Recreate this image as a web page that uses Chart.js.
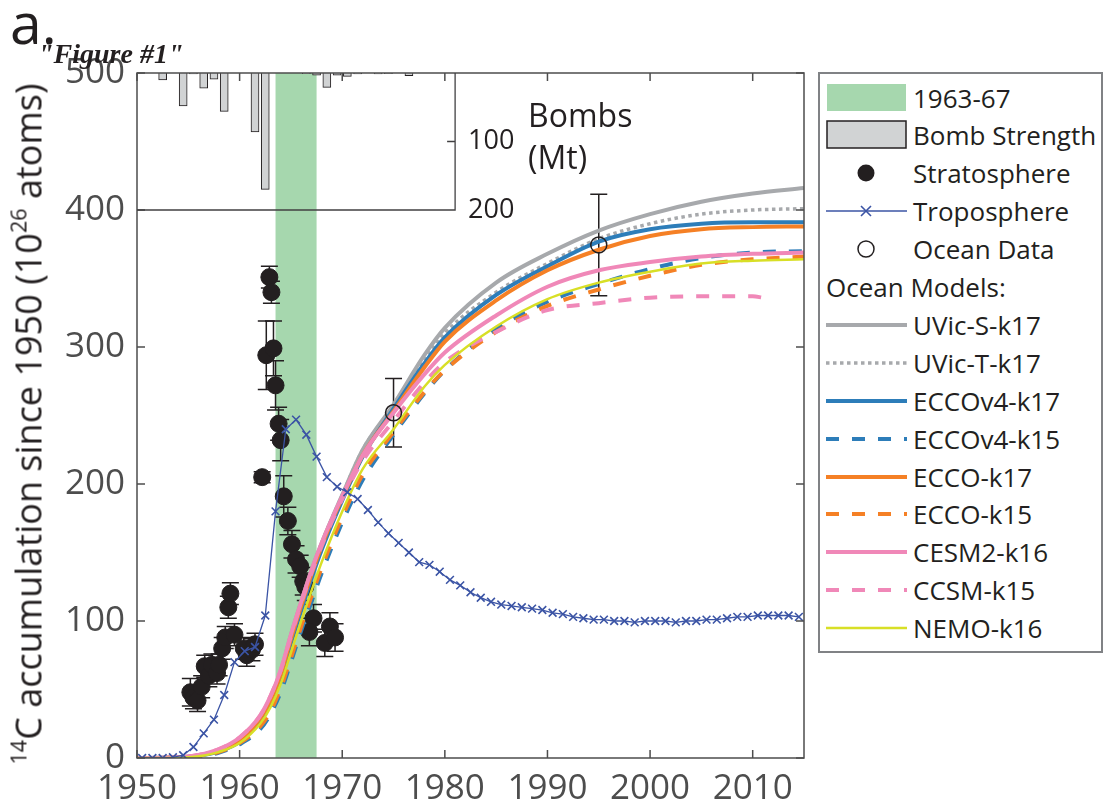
<!DOCTYPE html>
<html>
<head>
<meta charset="utf-8">
<script src="https://cdn.jsdelivr.net/npm/chart.js@4.4.1/dist/chart.umd.min.js"></script>
<style>
  body { margin: 0; background: #fff; }
  #wrap { position: relative; width: 1105px; height: 811px; font-family: 'Open Sans', sans-serif; color: #231f20; overflow: hidden; }
  canvas { position: absolute; left: 0; top: 0; }
  .lbl { position: absolute; white-space: nowrap; }
  .lbl sup { font-size: 0.6em; vertical-align: 0.7em; line-height: 0; }
  #legend { position: absolute; left: 818px; top: 72px; width: 285px; height: 581px; border: 2px solid #808285; box-sizing: border-box; background: #fff; }
  .row { position: absolute; left: 6px; height: 38px; display: flex; align-items: center; font-size: 26px; white-space: nowrap; }
  .row svg { flex: none; margin-right: 6px; }
</style>
</head>
<body>
<div id="wrap">
  <canvas id="myChart" width="1105" height="811"></canvas>
  <div class="lbl" style="left:10px;top:-17px;font-size:57px;">a.</div>
  <div class="lbl" style="left:38px;top:38px;font:italic bold 28px 'Liberation Serif',serif;">"Figure #1"</div>
  <div class="lbl" style="left:528px;top:94px;font-size:32px;line-height:42px;">Bombs<br>(Mt)</div>
  <div class="lbl" style="left:28px;top:424px;transform:translate(-50%,-50%) rotate(-90deg);font-size:36px;"><sup>14</sup>C accumulation since 1950 (10<sup>26</sup> atoms)</div>
  <div id="legend"></div>
</div>
<script>
// x ticks / y ticks
const xTickValues = [1950, 1960, 1970, 1980, 1990, 2000, 2010];
const yTickValues = [0, 100, 200, 300, 400, 500];
const bombTickValues = [100, 200];
const bandYears = [1963.5, 1967.5];
const insetXMax = 1981;

// bomb strength (Mt) per year
const bombYears = [1952.5, 1954.5, 1955.5, 1956.5, 1957.5, 1958.5, 1961.5, 1962.5, 1966.5, 1967.5, 1968.5, 1969.5, 1970.5, 1971.5, 1973.5, 1974.5, 1976.5];
const bombMt = [10, 48, 1.5, 22, 9, 56, 86, 170, 1, 3, 21, 3, 5, 1.5, 1.5, 1, 4];

// stratosphere inventory
const stratYears = [1955.2, 1955.5, 1955.9, 1956.3, 1956.6, 1957.0, 1957.3, 1957.8, 1958.0, 1958.3, 1958.6, 1958.9, 1959.1, 1959.5, 1960.4, 1960.7, 1961.2, 1961.5,
  1962.2, 1962.6, 1962.9, 1963.1, 1963.3, 1963.5, 1963.8, 1964.0, 1964.3, 1964.7, 1965.1, 1965.5, 1965.9, 1966.2, 1966.4, 1967.2, 1966.8, 1968.3, 1968.8, 1969.3];
const stratValues = [48, 44, 42, 52, 67, 60, 68, 62, 68, 80, 88, 110, 120, 90, 80, 75, 79, 83,
  205, 294, 351, 340, 299, 272, 244, 232, 191, 173, 156, 145, 140, 129, 125, 102, 92, 84, 96, 88];
const stratErr = [10, 8, 8, 8, 8, 8, 8, 8, 8, 8, 8, 8, 8, 8, 8, 8, 8, 8,
  4, 25, 8, 8, 20, 18, 12, 15, 15, 10, 10, 10, 8, 10, 10, 10, 10, 10, 10, 10];

// troposphere inventory
const tropoYears = [1950.5, 1951.5, 1952.5, 1953.5, 1954.5, 1955.5, 1956.5, 1957.5, 1958.5, 1959.5, 1960.5, 1961.5, 1962.5, 1963.5, 1964.5, 1965.5, 1966.5, 1967.5, 1968.5, 1969.5,
  1970.5, 1971.5, 1972.5, 1973.5, 1974.5, 1975.5, 1976.5, 1977.5, 1978.5, 1979.5, 1980.5, 1981.5, 1982.5, 1983.5, 1984.5, 1985.5, 1986.5, 1987.5, 1988.5, 1989.5,
  1990.5, 1991.5, 1992.5, 1993.5, 1994.5, 1995.5, 1996.5, 1997.5, 1998.5, 1999.5, 2000.5, 2001.5, 2002.5, 2003.5, 2004.5, 2005.5, 2006.5, 2007.5, 2008.5, 2009.5,
  2010.5, 2011.5, 2012.5, 2013.5, 2014.5];
const tropoValues = [0, 0, 0, 0.5, 2, 8, 18, 28, 46, 70, 78, 81, 104, 180, 240, 247, 236, 220, 205, 198,
  194, 189, 181, 172, 164, 157, 150, 143, 141, 136, 130, 126, 121, 117, 114, 112, 111, 110, 109, 108,
  106, 105, 103, 102, 101, 101, 100, 100, 99, 100, 100, 100, 99, 100, 100, 101, 101, 102, 103, 103,
  104, 104, 104, 104, 103];

// ocean data
const oceanYears = [1975, 1995];
const oceanValues = [252, 374.5];
const oceanErr = [25, 37];

// ocean models
const modelYears = [1950, 1954, 1956, 1958, 1960, 1962, 1963, 1964, 1965, 1966, 1967, 1968, 1970, 1972, 1975, 1978, 1980, 1985, 1990, 1995, 2000, 2005, 2010, 2015];
const ccsmYears  = [1950, 1954, 1956, 1958, 1960, 1962, 1963, 1964, 1965, 1966, 1967, 1968, 1970, 1972, 1975, 1978, 1980, 1985, 1990, 1995, 2000, 2005, 2010, 2011];
const uvicS    = [0, 0.5, 2, 6, 14, 30, 44, 63, 90, 114, 137, 157, 192, 225, 258, 294, 314, 347, 368, 385, 397, 406, 412, 416];
const uvicT    = [0, 0.5, 2, 6, 14, 30, 44, 63, 90, 114, 137, 157, 192, 225, 257, 290, 310, 340, 361, 379, 390, 397, 400, 401];
const eccov4k17 = [0, 0.3, 1.5, 5, 12, 28, 41, 59, 84, 108, 131, 152, 188, 220, 255, 288, 307, 338, 359, 377, 386, 390, 391, 391];
const eccov4k15 = [0, 0.2, 1, 4, 10, 21, 32, 48, 70, 93, 114, 135, 172, 203, 236, 266, 283, 313, 333, 346, 357, 365, 369, 370];
const eccok17  = [0, 0.4, 1.8, 5.5, 13, 29, 42, 61, 87, 111, 134, 155, 190, 221, 253, 285, 304, 334, 356, 371, 381, 386, 387.5, 388];
const eccok15  = [0, 0.2, 1.2, 4.5, 11, 23, 34, 51, 73, 96, 118, 139, 176, 207, 238, 267, 283, 311, 330, 342, 352, 360, 364, 366];
const cesm2k16 = [0, 0.5, 2.2, 6.5, 15, 31, 45, 64, 90, 114, 137, 157, 191, 221, 252, 280, 296, 323, 344, 356, 362, 366, 368, 369];
const ccsmk15  = [0, 0.5, 2.2, 6.5, 15, 31, 45, 64, 89, 113, 135, 155, 189, 217, 246, 274, 289, 311, 327, 332, 336, 337, 337, 336];
const nemok16  = [0, 0.2, 1.2, 4.5, 11, 25, 37, 54, 77, 100, 122, 143, 180, 211, 240, 271, 287, 315, 335, 347, 355, 361, 363, 364];

const pts = (xs, ys) => xs.map((x, i) => ({ x: x, y: ys[i] }));

const INK = '#231f20';
const AXIS = '#4d4d4d';

function model(label, xs, ys, color, width, dash) {
  return {
    type: 'line', label: label, data: pts(xs, ys),
    borderColor: color, backgroundColor: color, borderWidth: width, borderDash: dash || [],
    pointRadius: 0, cubicInterpolationMode: 'monotone', fill: false
  };
}

const datasets = [
  { type: 'line', label: 'Ocean Data', data: pts(oceanYears, oceanValues), showLine: false,
    pointStyle: 'circle', pointRadius: 8, pointBackgroundColor: 'rgba(0,0,0,0)', pointBorderColor: INK, pointBorderWidth: 1.5 },
  { type: 'line', label: 'Troposphere', data: pts(tropoYears, tropoValues), borderColor: '#3b54a5', borderWidth: 1.3,
    pointStyle: 'crossRot', pointRadius: 5.5, pointBorderColor: '#3b54a5', pointBorderWidth: 1.6, tension: 0 },
  model('NEMO-k16', modelYears, nemok16, '#d8df26', 2.5),
  model('CCSM-k15', ccsmYears, ccsmk15, '#f088b8', 4, [13, 13]),
  model('CESM2-k16', modelYears, cesm2k16, '#f088b8', 4),
  model('ECCO-k15', modelYears, eccok15, '#f58025', 4, [13, 13]),
  model('ECCO-k17', modelYears, eccok17, '#f58025', 4),
  model('ECCOv4-k15', modelYears, eccov4k15, '#2d7db9', 4, [13, 13]),
  model('ECCOv4-k17', modelYears, eccov4k17, '#2d7db9', 4),
  model('UVic-T-k17', modelYears, uvicT, '#a7a9ac', 3.5, [3.5, 3.5]),
  model('UVic-S-k17', modelYears, uvicS, '#a7a9ac', 4),
  { type: 'line', label: 'Stratosphere', data: pts(stratYears, stratValues), showLine: false,
    pointStyle: 'circle', pointRadius: 8.5, pointBackgroundColor: INK, pointBorderColor: INK, pointBorderWidth: 1 },
  { type: 'bar', label: 'Bomb Strength', data: pts(bombYears, bombMt), yAxisID: 'yB',
    backgroundColor: '#d1d3d4', borderColor: INK, borderWidth: 1, barThickness: 8 }
];

const errorSets = { 'Stratosphere': stratErr, 'Ocean Data': oceanErr };

const decor = {
  id: 'decor',
  beforeDatasetsDraw(chart) {
    const { ctx, chartArea: a, scales: { x, y } } = chart;
    ctx.save();
    // 1963-67 band
    ctx.fillStyle = '#a6d7ae';
    const x0 = x.getPixelForValue(bandYears[0]), x1 = x.getPixelForValue(bandYears[1]);
    ctx.fillRect(x0, a.top, x1 - x0, a.bottom - a.top);
    // error bars
    ctx.strokeStyle = INK;
    ctx.lineWidth = 1.5;
    chart.data.datasets.forEach(ds => {
      const errs = errorSets[ds.label];
      if (!errs) return;
      ds.data.forEach((p, i) => {
        const px = x.getPixelForValue(p.x);
        const top = y.getPixelForValue(p.y + errs[i]), bot = y.getPixelForValue(p.y - errs[i]);
        ctx.beginPath();
        ctx.moveTo(px, top); ctx.lineTo(px, bot);
        ctx.moveTo(px - 8.5, top); ctx.lineTo(px + 8.5, top);
        ctx.moveTo(px - 8.5, bot); ctx.lineTo(px + 8.5, bot);
        ctx.stroke();
      });
    });
    ctx.restore();
  },
  afterDraw(chart) {
    const { ctx, chartArea: a, scales: { x, y, yB } } = chart;
    ctx.save();
    ctx.strokeStyle = AXIS;
    ctx.lineWidth = 1.5;
    ctx.strokeRect(a.left, a.top, a.right - a.left, a.bottom - a.top);
    ctx.beginPath();
    xTickValues.forEach(v => {
      const px = x.getPixelForValue(v);
      ctx.moveTo(px, a.bottom); ctx.lineTo(px, a.bottom - 8);
      ctx.moveTo(px, a.top); ctx.lineTo(px, a.top + 8);
    });
    yTickValues.forEach(v => {
      const py = y.getPixelForValue(v);
      ctx.moveTo(a.left, py); ctx.lineTo(a.left + 8, py);
      ctx.moveTo(a.right, py); ctx.lineTo(a.right - 8, py);
    });
    ctx.stroke();
    // inset axes for bombs
    const ir = x.getPixelForValue(insetXMax);
    const ib = yB.getPixelForValue(bombTickValues[bombTickValues.length - 1]);
    ctx.strokeStyle = '#414042';
    ctx.lineWidth = 1.3;
    ctx.beginPath();
    ctx.moveTo(a.left, ib); ctx.lineTo(ir, ib); ctx.lineTo(ir, a.top);
    bombTickValues.forEach(v => {
      const py = yB.getPixelForValue(v);
      ctx.moveTo(ir, py); ctx.lineTo(ir - 8, py);
    });
    ctx.stroke();
    ctx.fillStyle = INK;
    ctx.font = "27px 'Open Sans'";
    ctx.textBaseline = 'middle';
    bombTickValues.forEach(v => {
      ctx.fillText(String(v), ir + 13, yB.getPixelForValue(v));
    });
    ctx.restore();
  }
};

const ctx = document.getElementById('myChart').getContext('2d');
const chart = new Chart(ctx, {
  type: 'line',
  data: { datasets: datasets },
  plugins: [decor],
  options: {
    responsive: false,
    animation: false,
    devicePixelRatio: 1,
    layout: { padding: { left: 0, right: 301, top: 73, bottom: 0 } },
    plugins: { legend: { display: false }, tooltip: { enabled: false } },
    scales: {
      x: {
        type: 'linear', min: 1950, max: 2015, offset: false,
        grid: { display: false, drawTicks: false, offset: false }, border: { display: false },
        ticks: { font: { family: 'Open Sans', size: 35 }, color: AXIS, padding: 10, maxRotation: 0, autoSkip: false,
                 callback: v => String(v) },
        afterBuildTicks: s => { s.ticks = xTickValues.map(v => ({ value: v })); },
        afterFit: s => { s.height = 53; }
      },
      y: {
        type: 'linear', min: 0, max: 500,
        grid: { display: false, drawTicks: false }, border: { display: false },
        ticks: { font: { family: 'Open Sans', size: 35 }, color: AXIS, padding: 12 },
        afterBuildTicks: s => { s.ticks = yTickValues.map(v => ({ value: v })); },
        afterFit: s => { s.width = 137; }
      },
      yB: { type: 'linear', display: false, reverse: true, min: 0, max: 1000 }
    }
  }
});

// legend
const legendRows = [
  { text: '1963-67', kind: 'rect', fill: '#a6d7ae' },
  { text: 'Bomb Strength', kind: 'rect', fill: '#d1d3d4', stroke: INK },
  { text: 'Stratosphere', kind: 'dot' },
  { text: 'Troposphere', kind: 'tropo' },
  { text: 'Ocean Data', kind: 'ring' },
  { text: 'Ocean Models:', kind: 'header' },
  'UVic-S-k17', 'UVic-T-k17', 'ECCOv4-k17', 'ECCOv4-k15', 'ECCO-k17', 'ECCO-k15', 'CESM2-k16', 'CCSM-k15', 'NEMO-k16'
];
const legendEl = document.getElementById('legend');
legendRows.forEach((r, i) => {
  const row = document.createElement('div');
  row.className = 'row';
  row.style.top = (4.5 + i * 37.9) + 'px';
  let svg = '';
  let text;
  if (typeof r === 'string') {
    const ds = datasets.find(d => d.label === r);
    text = r;
    const dash = ds.borderDash.length ? `stroke-dasharray="${ds.borderDash.join(' ')}"` : '';
    svg = `<line x1="0" y1="19" x2="81" y2="19" stroke="${ds.borderColor}" stroke-width="${ds.borderWidth}" ${dash}/>`;
  } else {
    text = r.text;
    if (r.kind === 'rect') svg = `<rect x="1" y="5" width="79" height="27" fill="${r.fill}" ${r.stroke ? `stroke="${r.stroke}" stroke-width="1.5"` : ''}/>`;
    if (r.kind === 'dot') svg = `<circle cx="40" cy="19" r="8.5" fill="${INK}"/>`;
    if (r.kind === 'ring') svg = `<circle cx="40" cy="19" r="8" fill="none" stroke="${INK}" stroke-width="1.5"/>`;
    if (r.kind === 'tropo') svg = `<line x1="0" y1="19" x2="81" y2="19" stroke="#3b54a5" stroke-width="1.3"/><path d="M35 14 L45 24 M45 14 L35 24" stroke="#3b54a5" stroke-width="1.6"/>`;
  }
  if (r.kind === 'header') {
    row.innerHTML = `<span>${text}</span>`;
  } else {
    row.innerHTML = `<svg width="81" height="38" viewBox="0 0 81 38">${svg}</svg><span>${text}</span>`;
  }
  legendEl.appendChild(row);
});
</script>
</body>
</html>
